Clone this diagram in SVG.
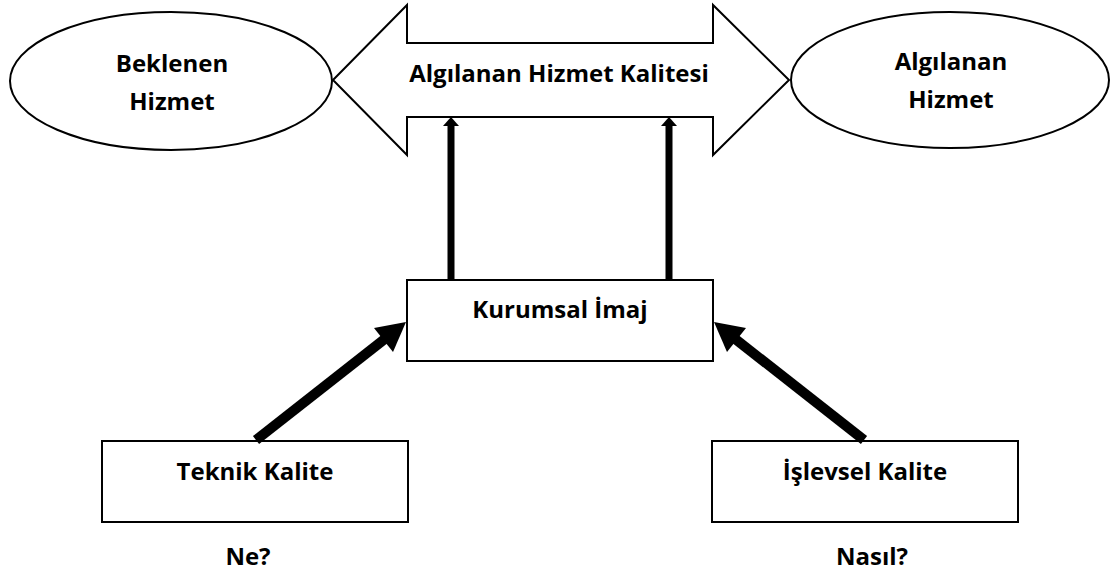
<svg xmlns="http://www.w3.org/2000/svg" width="1111" height="572" viewBox="0 0 1111 572">
  <style>
    .shape { fill: #ffffff; stroke: #000000; stroke-width: 2; }
    .label { font-family: "Open Sans", "Liberation Sans", sans-serif; font-weight: bold; font-size: 24px; fill: #000000; text-anchor: middle; }
    .shaft { stroke: #000000; fill: none; }
    .head { fill: #000000; stroke: none; }
  </style>

  <rect width="1111" height="572" fill="#ffffff"/>

  <!-- Double-headed block arrow -->
  <g id="node-quality">
    <path class="shape" d="M333,80 L407,5 L407,43 L713,43 L713,5 L789,80 L713,155 L713,117 L407,117 L407,155 Z"/>
    <text class="label" x="559" y="82">Algılanan Hizmet Kalitesi</text>
  </g>

  <g id="node-expected">
    <ellipse class="shape" cx="171" cy="81" rx="161" ry="69"/>
    <text class="label" x="172" y="72">Beklenen</text>
    <text class="label" x="172" y="110">Hizmet</text>
  </g>

  <g id="node-perceived">
    <ellipse class="shape" cx="950" cy="80" rx="159" ry="68"/>
    <text class="label" x="951" y="70">Algılanan</text>
    <text class="label" x="951" y="108">Hizmet</text>
  </g>

  <g id="node-image">
    <rect class="shape" x="407" y="280" width="306" height="81"/>
    <text class="label" x="560" y="318">Kurumsal İmaj</text>
  </g>

  <g id="node-technical">
    <rect class="shape" x="102" y="441" width="306" height="81"/>
    <text class="label" x="255" y="480">Teknik Kalite</text>
  </g>

  <g id="node-functional">
    <rect class="shape" x="712" y="441" width="306" height="81"/>
    <text class="label" x="865" y="480">İşlevsel Kalite</text>
  </g>

  <g id="caption-what">
    <text class="label" x="248" y="565">Ne?</text>
  </g>
  <g id="caption-how">
    <text class="label" x="872" y="565">Nasıl?</text>
  </g>

  <!-- Connectors -->
  <g id="connectors">
    <!-- image to quality, vertical -->
    <line class="shaft" x1="451" y1="280" x2="451" y2="124" stroke-width="7"/>
    <polygon class="head" points="451,117 459,126 443,126"/>
    <line class="shaft" x1="669" y1="280" x2="669" y2="124" stroke-width="7"/>
    <polygon class="head" points="669,117 677,126 661,126"/>

    <!-- technical to image -->
    <line class="shaft" x1="256" y1="440" x2="386" y2="338" stroke-width="10"/>
    <polygon class="head" points="406,322 393,352 374,328"/>

    <!-- functional to image -->
    <line class="shaft" x1="864" y1="440" x2="734" y2="338" stroke-width="10"/>
    <polygon class="head" points="714,322 727,352 746,328"/>
  </g>
</svg>
